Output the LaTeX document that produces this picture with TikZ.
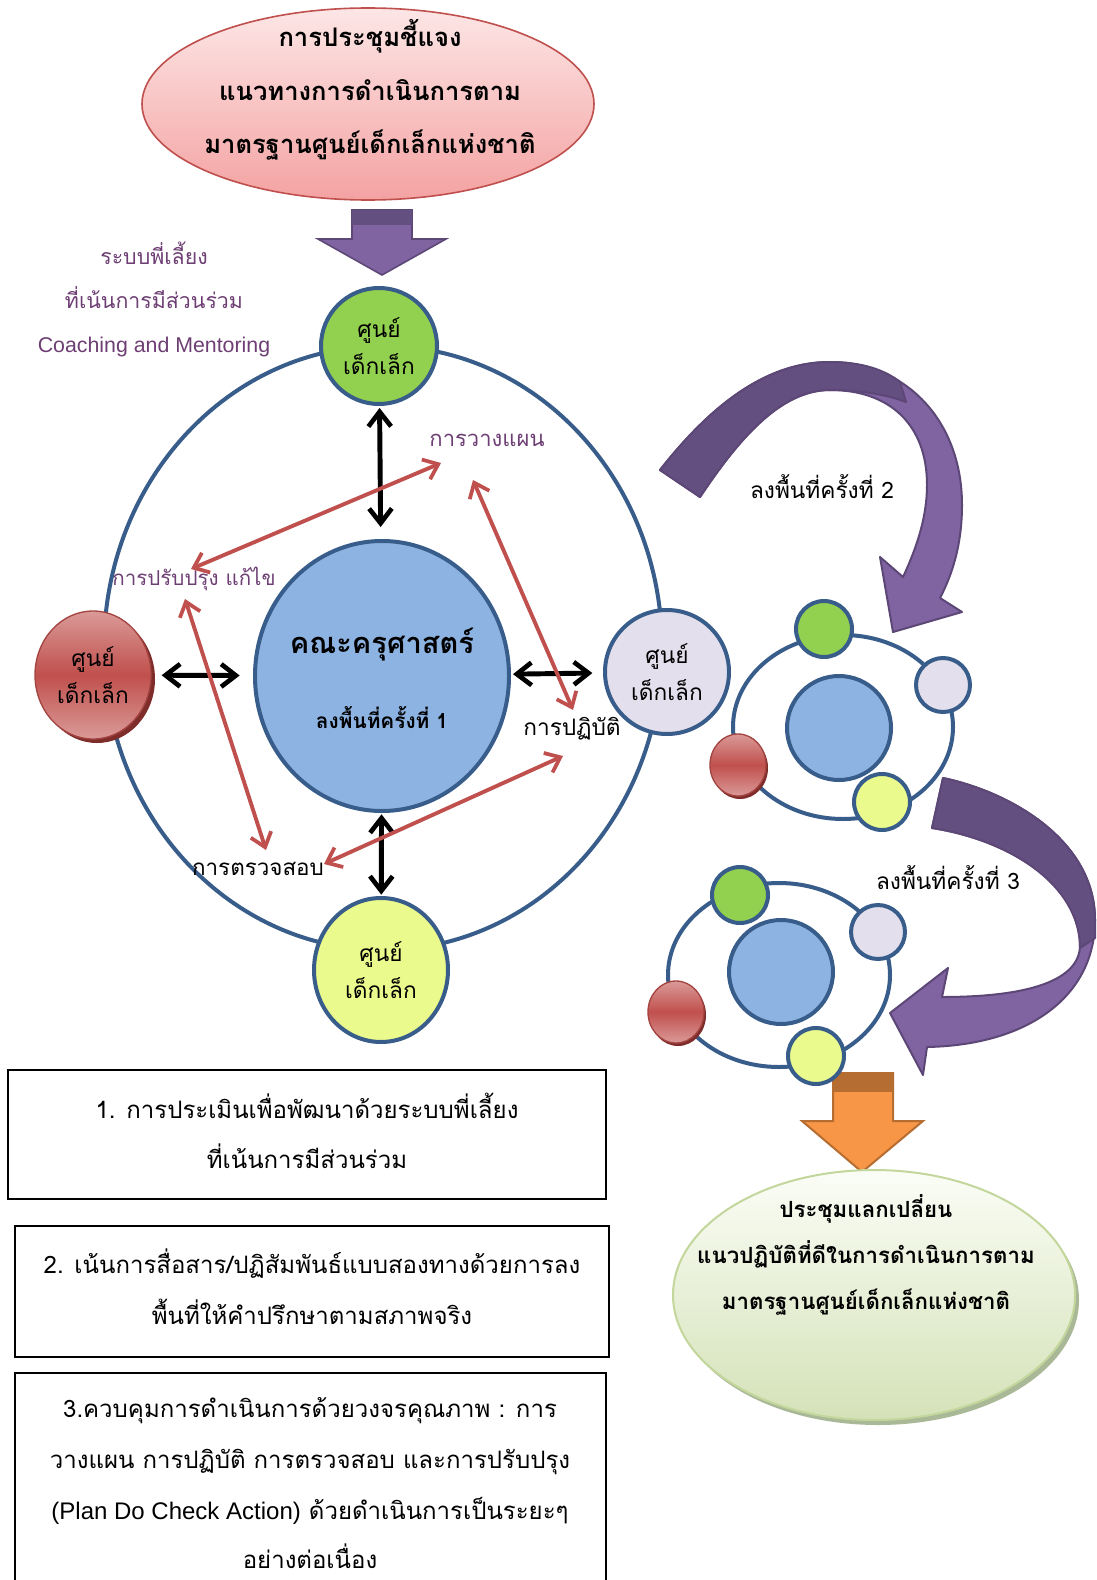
\documentclass[tikz,border=0pt]{standalone}
\usepackage{fontspec}
\setmainfont[Script=Thai]{Loma}
\newfontfamily\latinfont{Liberation Sans}
\usetikzlibrary{arrows.meta,shapes.geometric}
\definecolor{dblue}{HTML}{385D8A}
\definecolor{kgreen}{HTML}{92D050}
\definecolor{klav}{HTML}{E4DFEC}
\definecolor{kyellow}{HTML}{EAFA8C}
\definecolor{cblue}{HTML}{8DB3E2}
\definecolor{rmid}{HTML}{C0504D}
\definecolor{rlight}{HTML}{DA9A98}
\definecolor{rshadow}{HTML}{7F2D2B}
\definecolor{redarr}{HTML}{C0504D}
\definecolor{lpurple}{HTML}{6E3F74}
\definecolor{pdark}{HTML}{645080}
\definecolor{plight}{HTML}{8064A2}
\definecolor{pborder}{HTML}{5C4776}
\definecolor{pinktop}{HTML}{FDE6E6}
\definecolor{pinkbot}{HTML}{F4A2A2}
\definecolor{pinkline}{HTML}{C0504D}
\definecolor{orfill}{HTML}{F79646}
\definecolor{orline}{HTML}{B66D31}
\definecolor{gtop}{HTML}{FBFDF6}
\definecolor{gbot}{HTML}{D4E2B8}
\definecolor{gline}{HTML}{C3D69B}
\definecolor{gshadow}{HTML}{A9B896}
\begin{document}
\begin{tikzpicture}[x=0.75pt,y=-0.75pt,
  kid/.style={circle, draw=dblue, line width=3pt, inner sep=0pt, align=center,
    font=\fontsize{17}{28}\selectfont},
  kidell/.style={ellipse, draw=dblue, line width=3pt, inner sep=0pt, align=center,
    font=\fontsize{17}{28}\selectfont},
  redkid/.style={ellipse, draw=rmid!85!black, line width=1pt, inner sep=0pt, align=center,
    top color=rlight, bottom color=rlight, middle color=rmid, font=\fontsize{17}{28}\selectfont},
  mini/.style={circle, draw=dblue, line width=3pt, inner sep=0pt},
  blk/.style={{Straight Barb[length=11pt,width=17pt,line width=3.5pt]}-{Straight Barb[length=11pt,width=17pt,line width=3.5pt]}, line width=3.7pt, black},
  rarr/.style={{Straight Barb[length=10pt,width=16pt,line width=2.8pt]}-{Straight Barb[length=10pt,width=16pt,line width=2.8pt]}, line width=2.9pt, redarr},
  lbl/.style={inner sep=0pt, font=\fontsize{16.5}{20}\selectfont},
  boxtxt/.style={align=center, font=\fontsize{18}{38}\selectfont}
]
\useasboundingbox (0,0) rectangle (1096,1580);
\fill[white] (0,0) rectangle (1096,1580);

% ---------- top ellipse ----------
\node[ellipse, draw=pinkline, line width=1.2pt, top color=pinktop, bottom color=pinkbot,
  minimum width=339pt, minimum height=144pt] (meet) at (368,104) {};
\node[align=center, font=\bfseries\fontsize{19.2}{40}\selectfont] (meettxt) at (370,90)
  {การประชุมชี้แจง\\แนวทางการดำเนินการตาม\\มาตรฐานศูนย์เด็กเล็กแห่งชาติ};

% ---------- purple down arrow ----------
\filldraw[fill=plight, draw=pborder, line width=1.2pt]
  (352,210) -- (412,210) -- (412,239) -- (446,239) -- (382,275) -- (318,239) -- (352,239) -- cycle;
\fill[pdark] (352,210) rectangle (412,225);

% ---------- left text ----------
\node[align=center, text=lpurple, font=\fontsize{16}{33}\selectfont] (mentor) at (154,299)
  {ระบบพี่เลี้ยง\\ที่เน้นการมีส่วนร่วม\\{\latinfont Coaching and Mentoring}};

% ---------- outer ring ----------
\node[ellipse, draw=dblue, line width=3pt, minimum width=418.5pt, minimum height=453pt] (ring) at (383,648) {};

% ---------- centre ----------
\node[ellipse, draw=dblue, line width=3pt, fill=cblue, minimum width=190.5pt, minimum height=202.5pt] (faculty) at (382,676) {};
\node[font=\bfseries\fontsize{21.8}{26}\selectfont] (factxt) at (382,645) {คณะครุศาสตร์};
\node[font=\bfseries\fontsize{15.6}{18}\selectfont] (round1) at (382,718) {ลงพื้นที่ครั้งที่ 1};

% ---------- satellites ----------
\node[kid, fill=kgreen, minimum size=87pt] (cgreen) at (379,346) {ศูนย์\\เด็กเล็ก};
\node[kid, fill=klav, minimum size=93pt] (clav) at (667,672) {ศูนย์\\เด็กเล็ก};
\node[kidell, fill=kyellow, minimum width=100.5pt, minimum height=108pt] (cyel) at (381,970) {ศูนย์\\เด็กเล็ก};
\fill[rshadow] (97,679) ellipse [x radius=58, y radius=64];
\node[redkid, minimum width=87pt, minimum height=96pt] (cred) at (93,675) {ศูนย์\\เด็กเล็ก};

% ---------- black double arrows ----------
\draw[blk, shorten <=1.5pt, shorten >=9pt] (cgreen) -- (faculty);
\draw[blk, shorten <=7.5pt, shorten >=10pt] (cred) -- (faculty);
\draw[blk, shorten <=1.5pt, shorten >=8pt] (faculty) -- (clav);
\draw[blk, shorten <=1pt, shorten >=1pt] (faculty) -- (cyel);

% ---------- PDCA labels ----------
\node[lbl, text=lpurple] (plan) at (487,440) {การวางแผน};
\node[lbl, text=lpurple, font=\fontsize{15.4}{20}\selectfont] (improve) at (194,579) {การปรับปรุง แก้ไข};
\node[lbl, font=\fontsize{17}{20}\selectfont] (do) at (572,729) {การปฏิบัติ};
\node[lbl, font=\fontsize{16.8}{20}\selectfont] (check) at (258,869) {การตรวจสอบ};

\coordinate (a1) at (191,569); \coordinate (a2) at (441,463);
\coordinate (b1) at (473,480); \coordinate (b2) at (573,710);
\coordinate (c1) at (185,599); \coordinate (c2) at (266,850);
\coordinate (d1) at (324,864); \coordinate (d2) at (563,756);
\draw[rarr] (a1) -- (a2);
\draw[rarr] (b1) -- (b2);
\draw[rarr] (c1) -- (c2);
\draw[rarr] (d1) -- (d2);

% ---------- curved arrow 2 ----------
\filldraw[fill=plight, draw=pborder, line width=1.5pt, line join=round]
  (660,470) .. controls (715,400) and (770,362) .. (830,362)
  .. controls (905,362) and (962,420) .. (962,505)
  .. controls (962,545) and (952,575) .. (940,598)
  -- (962,612) -- (893,632) -- (880,557) -- (903,577)
  .. controls (918,545) and (927,515) .. (927,485)
  .. controls (927,425) and (890,390) .. (830,390)
  .. controls (780,390) and (738,440) .. (700,497) -- cycle;
\filldraw[fill=pdark, draw=pborder, line width=1.5pt, line join=round]
  (660,470) .. controls (715,400) and (770,362) .. (830,362)
  .. controls (862,362) and (885,370) .. (900,382) -- (906,402)
  .. controls (885,394) and (858,390) .. (830,390)
  .. controls (780,390) and (738,440) .. (700,497) -- cycle;
\node[font=\fontsize{17}{20}\selectfont] (round2) at (822,487) {ลงพื้นที่ครั้งที่ 2};

% ---------- curved arrow 3 ----------
\filldraw[fill=plight, draw=pborder, line width=1.5pt, line join=round]
  (943,778) .. controls (1010,792) and (1095,840) .. (1095,920)
  .. controls (1095,995) and (1030,1045) .. (927,1047)
  -- (923,1075) -- (890,1013) -- (948,968) -- (942,997)
  .. controls (1030,997) and (1080,980) .. (1080,945)
  .. controls (1080,885) and (1010,840) .. (932,828) -- cycle;
\filldraw[fill=pdark, draw=pborder, line width=1.5pt, line join=round]
  (943,778) .. controls (1010,792) and (1095,840) .. (1095,920)
  -- (1095,938) -- (1080,948)
  .. controls (1080,885) and (1010,840) .. (932,828) -- cycle;
\node[font=\fontsize{17}{20}\selectfont] (round3) at (948,878) {ลงพื้นที่ครั้งที่ 3};

% ---------- mini diagram 1 ----------
\node[ellipse, draw=dblue, line width=3pt, minimum width=165pt, minimum height=138pt] (m1ring) at (843,727) {};
\node[mini, fill=cblue, minimum size=78pt] (m1c) at (839,728) {};
\node[mini, fill=kgreen, minimum size=42pt] (m1g) at (824,629) {};
\node[mini, fill=klav, minimum size=40.5pt] (m1l) at (943,685) {};
\node[mini, fill=kyellow, minimum size=42pt] (m1y) at (882,802) {};
\fill[rshadow] (740,768) ellipse [x radius=28, y radius=31];
\node[redkid, minimum width=42pt, minimum height=46.5pt] (m1r) at (738,765) {};

% ---------- orange arrow ----------
\filldraw[fill=orfill, draw=orline, line width=1.5pt]
  (833,1073) -- (893,1073) -- (893,1121) -- (923,1121) -- (862,1172) -- (802,1121) -- (833,1121) -- cycle;
\fill[orline] (833,1073) rectangle (893,1092);

% ---------- mini diagram 2 ----------
\node[ellipse, draw=dblue, line width=3pt, minimum width=166.5pt, minimum height=138pt] (m2ring) at (779,975) {};
\node[mini, fill=cblue, minimum size=78pt] (m2c) at (781,972) {};
\node[mini, fill=kgreen, minimum size=42pt] (m2g) at (740,895) {};
\node[mini, fill=klav, minimum size=40.5pt] (m2l) at (878,932) {};
\node[mini, fill=kyellow, minimum size=42pt] (m2y) at (816,1056) {};
\fill[rshadow] (678,1015) ellipse [x radius=28, y radius=31];
\node[redkid, minimum width=42pt, minimum height=46.5pt] (m2r) at (676,1012) {};

% ---------- bottom right ellipse ----------
\fill[gshadow] (878,1300) ellipse [x radius=201, y radius=125];
\node[ellipse, draw=gline, line width=1.5pt, top color=gtop, bottom color=gbot,
  minimum width=301.5pt, minimum height=187.5pt] (share) at (874,1295) {};
\node[align=center, font=\bfseries\fontsize{16.7}{34.5}\selectfont] (sharetxt) at (866,1255)
  {ประชุมแลกเปลี่ยน\\แนวปฏิบัติที่ดีในการดำเนินการตาม\\มาตรฐานศูนย์เด็กเล็กแห่งชาติ};

% ---------- bottom boxes ----------
\node[draw, line width=1.5pt, minimum width=448.5pt, minimum height=96.75pt, inner sep=0pt] (box1) at (307,1134.5) {};
\node[boxtxt] (box1txt) at (307,1131) {1. การประเมินเพื่อพัฒนาด้วยระบบพี่เลี้ยง\\ที่เน้นการมีส่วนร่วม};
\node[draw, line width=1.5pt, minimum width=445.5pt, minimum height=98.25pt, inner sep=0pt] (box2) at (312,1291.5) {};
\node[boxtxt] (box2txt) at (312,1287) {2. เน้นการสื่อสาร/ปฏิสัมพันธ์แบบสองทางด้วยการลง\\พื้นที่ให้คำปรึกษาตามสภาพจริง};
\node[draw, line width=1.5pt, minimum width=443.25pt, minimum height=180pt, inner sep=0pt] (box3) at (310.5,1493) {};
\node[boxtxt, inner sep=1pt, font=\fontsize{18}{38.5}\selectfont] (box3txt) at (310,1483) {3.ควบคุมการดำเนินการด้วยวงจรคุณภาพ : การ\\วางแผน การปฏิบัติ การตรวจสอบ และการปรับปรุง\\{\latinfont (Plan Do Check Action)} ด้วยดำเนินการเป็นระยะๆ\\[-2pt]อย่างต่อเนื่อง};
\end{tikzpicture}
\end{document}
